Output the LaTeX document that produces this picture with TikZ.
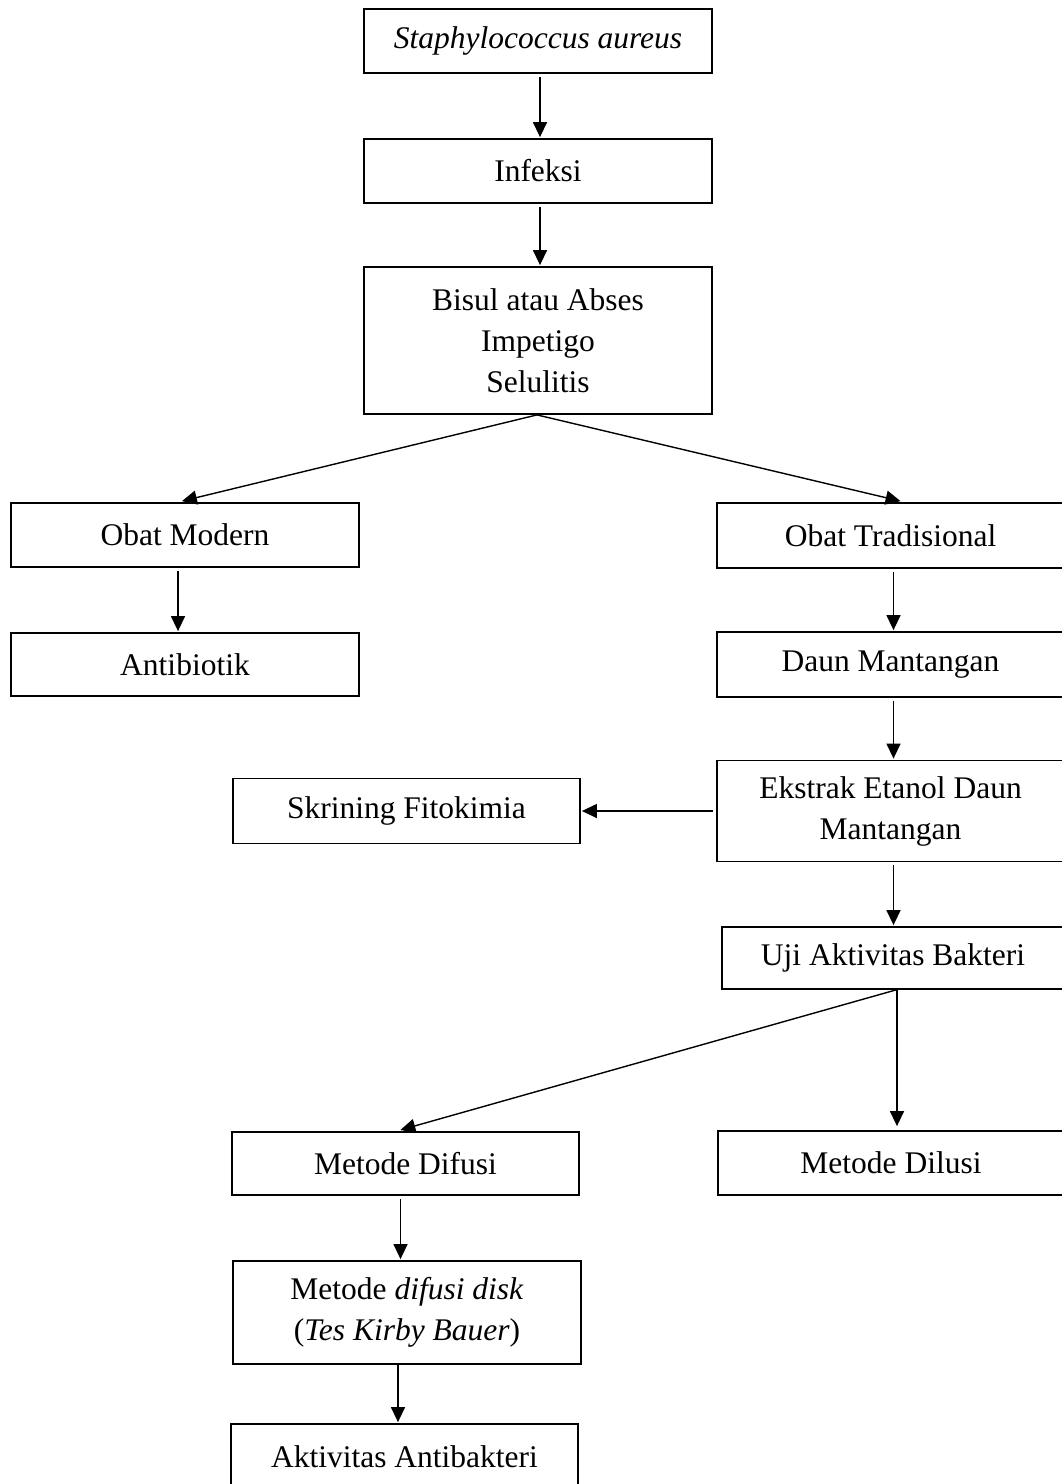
\documentclass[tikz,border=0pt]{standalone}
\usepackage{fontspec}
\setmainfont{Liberation Serif}
\usetikzlibrary{arrows.meta}
\begin{document}
\begin{tikzpicture}[x=1pt,y=-1pt,
  box/.style={draw, line width=1.8pt, inner sep=0pt, align=center,
    font=\fontsize{31.5}{41}\selectfont},
  conn/.style={line width=1.4pt, -{Triangle[length=15pt,width=14pt]}, shorten <=3pt, shorten >=1pt}]
\useasboundingbox (0,0) rectangle (1062,1484);
\fill[white] (0,0) rectangle (1062,1484);
\node[box, minimum width=348pt, minimum height=64pt] (staph) at (538,41) {\itshape Staphylococcus aureus};
\node[box, minimum width=348pt, minimum height=64pt] (infeksi) at (538,171) {Infeksi};
\node[box, minimum width=348pt, minimum height=147pt] (bisul) at (538,340.5) {Bisul atau Abses\\Impetigo\\Selulitis};
\node[box, minimum width=348pt, minimum height=64pt] (modern) at (185,535) {Obat Modern};
\node[box, minimum width=347pt, minimum height=65pt] (trad) at (890.5,535.5) {Obat Tradisional};
\node[box, minimum width=348pt, minimum height=63pt] (antibiotik) at (185,664.5) {Antibiotik};
\node[box, minimum width=347pt, minimum height=65pt] (daun) at (890.5,664.5) {Daun Mantangan};
\node[box, minimum width=347pt, minimum height=65pt] (skrining) at (406.5,811) {Skrining Fitokimia};
\node[box, minimum width=347pt, minimum height=101pt] (ekstrak) at (890.5,811) {Ekstrak Etanol Daun\\Mantangan};
\node[box, minimum width=342pt, minimum height=62pt] (uji) at (893,958) {Uji Aktivitas Bakteri};
\node[box, minimum width=347pt, minimum height=63pt] (difusi) at (405.5,1163.5) {Metode Difusi};
\node[box, minimum width=346pt, minimum height=64pt] (dilusi) at (891,1163) {Metode Dilusi};
\node[box, minimum width=348pt, minimum height=103pt] (disk) at (407,1312.5) {Metode \textit{difusi disk}\\(\textit{Tes Kirby Bauer})};
\node[box, minimum width=347pt, minimum height=66pt] (aktivitas) at (404.5,1457) {Aktivitas Antibakteri};

\draw[conn] ([xshift=2pt]staph.south) -- ([xshift=2pt]infeksi.north);
\draw[conn] ([xshift=2pt]infeksi.south) -- ([xshift=2pt]bisul.north);
\draw[conn, shorten <=0pt, shorten >=4pt] ([xshift=-1pt]bisul.south) -- ([xshift=-7pt]modern.north);
\draw[conn, shorten <=0pt, shorten >=4pt] ([xshift=-1pt]bisul.south) -- ([xshift=14pt]trad.north);
\draw[conn] ([xshift=-7pt]modern.south) -- ([xshift=-7pt]antibiotik.north);
\draw[conn] ([xshift=3pt]trad.south) -- ([xshift=3pt]daun.north);
\draw[conn] ([xshift=3pt]daun.south) -- ([xshift=3pt]ekstrak.north);
\draw[conn] (ekstrak.west) -- (skrining.east);
\draw[conn] ([xshift=3pt]ekstrak.south) -- ([xshift=0.5pt]uji.north);
\draw[conn, shorten <=0pt, shorten >=4pt] ([xshift=3pt]uji.south) -- ([xshift=-9pt]difusi.north);
\draw[conn, shorten <=0pt, shorten >=4pt] ([xshift=4pt]uji.south) -- ([xshift=6pt]dilusi.north);
\draw[conn] ([xshift=-5pt]difusi.south) -- ([xshift=-6.5pt]disk.north);
\draw[conn, shorten <=0pt] ([xshift=-9pt]disk.south) -- ([xshift=-6.5pt]aktivitas.north);
\end{tikzpicture}
\end{document}
